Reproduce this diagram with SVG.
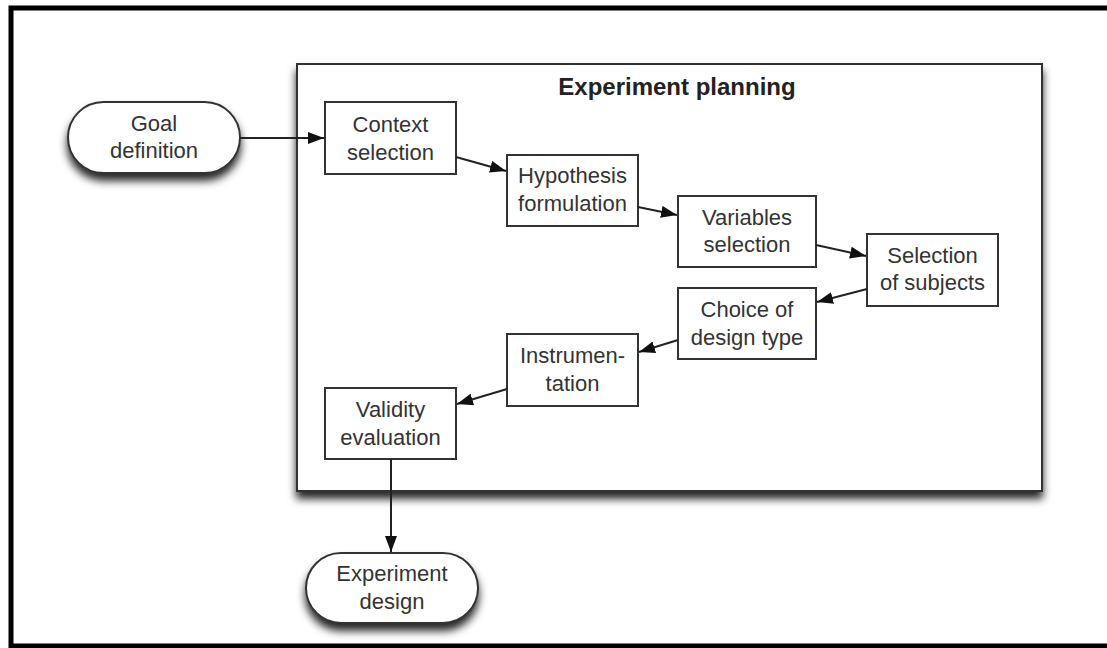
<svg xmlns="http://www.w3.org/2000/svg" width="1107" height="648" viewBox="0 0 1107 648">
  <defs>
    <filter id="shadow" x="-10%" y="-20%" width="120%" height="150%">
      <feDropShadow dx="0" dy="7" stdDeviation="4" flood-color="#000" flood-opacity="0.85"/>
    </filter>
    <marker id="arrow" viewBox="0 0 16 12" refX="16" refY="6" markerWidth="16" markerHeight="12" markerUnits="userSpaceOnUse" orient="auto">
      <path d="M0,0 L16,6 L0,12 Z" fill="#111"/>
    </marker>
  </defs>
  <style>
    .box { fill: #fff; stroke: #333; stroke-width: 2; }
    .lbl { font-family: "Liberation Sans", Arial, sans-serif; font-size: 22px; fill: #333; text-anchor: middle; }
    .title { font-family: "Liberation Sans", Arial, sans-serif; font-size: 24px; font-weight: bold; fill: #222; text-anchor: middle; }
    .conn { stroke: #222; stroke-width: 2; fill: none; marker-end: url(#arrow); }
  </style>
  <rect x="0" y="0" width="1107" height="648" fill="#fff"/>
  <rect id="frame" x="11" y="8" width="1110" height="638" fill="none" stroke="#000" stroke-width="5"/>

  <g id="experiment-planning">
    <rect class="box" x="297" y="64" width="745" height="427" filter="url(#shadow)" stroke-width="2.5"/>
    <text class="title" x="677" y="95">Experiment planning</text>
  </g>

  <g id="goal-definition">
    <rect class="box" x="68" y="102" width="172" height="71" rx="35.5" ry="35.5" filter="url(#shadow)"/>
    <text class="lbl" x="154" y="131">Goal</text>
    <text class="lbl" x="154" y="158">definition</text>
  </g>

  <g id="context-selection">
    <rect class="box" x="325" y="102" width="131" height="72"/>
    <text class="lbl" x="390.5" y="132">Context</text>
    <text class="lbl" x="390.5" y="160">selection</text>
  </g>

  <g id="hypothesis-formulation">
    <rect class="box" x="507" y="155" width="131" height="71"/>
    <text class="lbl" x="572.5" y="183">Hypothesis</text>
    <text class="lbl" x="572.5" y="211">formulation</text>
  </g>

  <g id="variables-selection">
    <rect class="box" x="678" y="196" width="138" height="71"/>
    <text class="lbl" x="747" y="225">Variables</text>
    <text class="lbl" x="747" y="252">selection</text>
  </g>

  <g id="selection-of-subjects">
    <rect class="box" x="867" y="234" width="131" height="72"/>
    <text class="lbl" x="932.5" y="263">Selection</text>
    <text class="lbl" x="932.5" y="290">of subjects</text>
  </g>

  <g id="choice-of-design-type">
    <rect class="box" x="678" y="288" width="138" height="71"/>
    <text class="lbl" x="747" y="317">Choice of</text>
    <text class="lbl" x="747" y="345">design type</text>
  </g>

  <g id="instrumentation">
    <rect class="box" x="507" y="334" width="131" height="72"/>
    <text class="lbl" x="572.5" y="363">Instrumen-</text>
    <text class="lbl" x="572.5" y="391">tation</text>
  </g>

  <g id="validity-evaluation">
    <rect class="box" x="325" y="388" width="131" height="71"/>
    <text class="lbl" x="390.5" y="417">Validity</text>
    <text class="lbl" x="390.5" y="445">evaluation</text>
  </g>

  <g id="experiment-design">
    <rect class="box" x="306" y="553" width="172" height="70" rx="35" ry="35" filter="url(#shadow)"/>
    <text class="lbl" x="392" y="581">Experiment</text>
    <text class="lbl" x="392" y="609">design</text>
  </g>

  <g id="connectors">
    <line class="conn" x1="240" y1="138" x2="324" y2="138"/>
    <line class="conn" x1="456" y1="157" x2="506" y2="171"/>
    <line class="conn" x1="638" y1="207" x2="677" y2="215"/>
    <line class="conn" x1="816" y1="245" x2="866" y2="256"/>
    <line class="conn" x1="867" y1="289" x2="817" y2="302"/>
    <line class="conn" x1="678" y1="340" x2="639" y2="352"/>
    <line class="conn" x1="507" y1="389" x2="457" y2="404"/>
    <line class="conn" x1="391" y1="459" x2="391" y2="552"/>
  </g>
</svg>
